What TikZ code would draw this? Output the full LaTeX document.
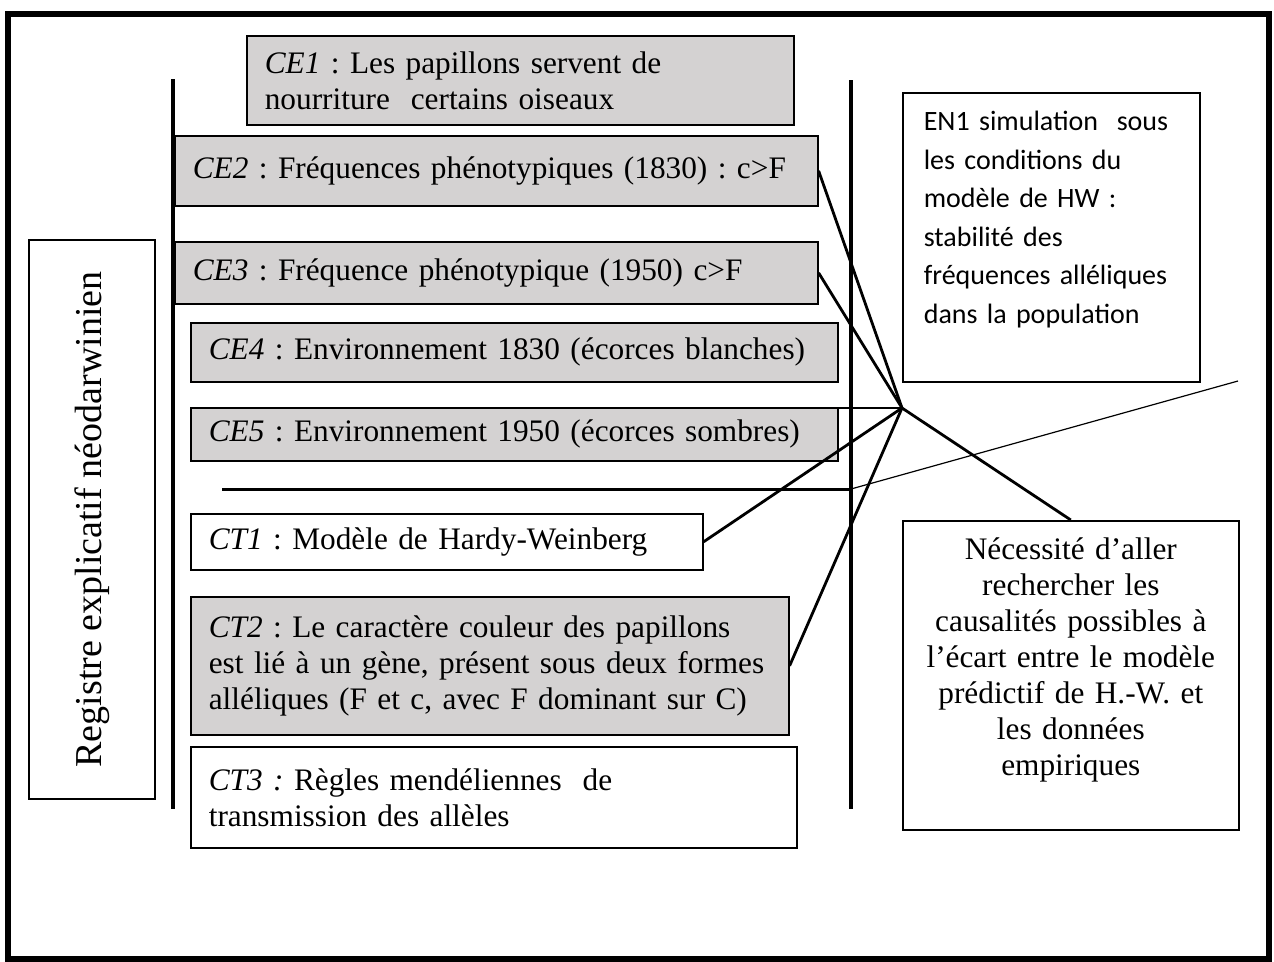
\documentclass[tikz,border=0pt]{standalone}
\usepackage{fontspec}
\setmainfont{Liberation Serif}
\newfontfamily\calibfont{Carlito}
\usepackage{xcolor}
\usepackage{tikz}
\usetikzlibrary{positioning}
\definecolor{boxgray}{RGB}{212,210,210}
\frenchspacing

\begin{document}
\begin{tikzpicture}[
      x=1pt, y=-1pt,
      font=\fontsize{31.3}{36}\selectfont,
      cbox/.style={draw, line width=1.6pt, anchor=north west, align=left,
                   inner xsep=18pt, inner ysep=0pt, fill=white},
      grey/.style={cbox, fill=boxgray},
      link/.style={line width=2.8pt},
      bar/.style={line width=4pt},
    ]
    % geometry: one unit = one pixel of the 1274x961 sheet, y going down
    \useasboundingbox (0,0) rectangle (1274,961);
    \draw[line width=6pt] (8,13.5) rectangle (1269,958.5);

    % left column: empirical (CE) and theoretical (CT) statements
    \node[grey, minimum height=89pt, text width=511pt] (ce1) at (246,35)
      {\textit{CE1} : Les papillons servent de\\nourriture\ \ certains oiseaux};
    \node[grey, minimum height=70pt, text width=607pt] (ce2) at (174,135)
      {\textit{CE2} : Fréquences phénotypiques (1830) : c>F};
    \node[grey, minimum height=62pt, text width=607pt] (ce3) at (174,241)
      {\textit{CE3} : Fréquence phénotypique (1950) c>F};
    \node[grey, minimum height=59pt, text width=611pt] (ce4) at (190,322)
      {\textit{CE4} : Environnement 1830 (écorces blanches)};
    \node[grey, minimum height=53pt, text width=611pt] (ce5) at (190,407)
      {\textit{CE5} : Environnement 1950 (écorces sombres)};
    \node[cbox, minimum height=56pt, text width=476pt] (ct1) at (190,513)
      {\textit{CT1} : Modèle de Hardy-Weinberg};
    \node[grey, minimum height=138pt, text width=562pt] (ct2) at (190,596)
      {\textit{CT2} : Le caractère couleur des papillons\\
       est lié à un gène, présent sous deux formes\\
       alléliques (F et c, avec F dominant sur C)};
    \node[cbox, minimum height=101pt, text width=570pt] (ct3) at (190,746)
      {\textit{CT3 :} Règles mendéliennes\ \ de\\transmission des allèles};

    % register label
    \node[draw, line width=1.6pt, rotate=90, minimum width=559pt, minimum height=126pt,
          font=\fontsize{38}{40}\selectfont] (reg) at (92,519.5)
      {Registre explicatif néodarwinien};

    % right column
    \node[cbox, font=\calibfont\fontsize{28}{38.5}\selectfont, text width=255pt,
          inner xsep=21pt, inner ysep=12pt, text height=26pt, text depth=239pt]
      (en1) at (902,92)
      {EN1 simulation\ \ sous\\les conditions du\\modèle de HW :\\stabilité des\\
       fréquences alléliques\\dans la population};
    \node[cbox, align=center, text width=296pt, inner xsep=20pt, inner ysep=12pt,
          text height=27pt, text depth=258pt] (nec) at (902,520)
      {Nécessité d’aller\\rechercher les\\causalités possibles à\\l’écart entre le modèle\\
       prédictif de H.-W. et\\les données\\empiriques};

    % separators
    \coordinate (lbtop) at (173,79);
    \coordinate (lbbot) at (173,809);
    \coordinate (rbtop) at (851,80);
    \coordinate (rbbot) at (851,809);
    \coordinate (sepl) at (222,489);
    \coordinate (sepr) at (851,489);
    \coordinate (slant) at (1238,381);
    \draw[bar] (lbtop) -- (lbbot);
    \draw[bar] (rbtop) -- (rbbot);
    \draw[line width=3pt] (sepl) -- (sepr);
    \draw[line width=1.2pt] (sepr) -- (slant);

    % links meeting at one point
    \coordinate (hub) at (902,408);
    \coordinate (stub) at (785,408);
    \draw[link] (ce2.east) -- (hub);
    \draw[link] (ce3.east) -- (hub);
    \draw[link] (stub) -- (hub);
    \draw[link] (ct1.east) -- (hub);
    \draw[link] (ct2.east) -- (hub);
    \draw[link] (hub) -- (nec.north);
\end{tikzpicture}
\end{document}
